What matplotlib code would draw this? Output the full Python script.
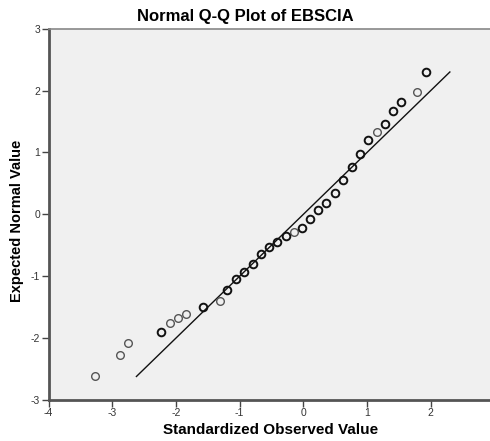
import matplotlib
matplotlib.use("Agg")
import matplotlib.pyplot as plt

plt.rcParams['font.family'] = ['Liberation Sans', 'DejaVu Sans']
plt.rcParams['axes.unicode_minus'] = False

# observed (standardized) vs expected normal values
observed = [-3.27, -2.88, -2.745, -2.23, -2.10, -1.97, -1.84, -1.58, -1.31, -1.20,
            -1.05, -0.926, -0.795, -0.67, -0.544, -0.412, -0.28, -0.15, -0.02, 0.11,
            0.23, 0.36, 0.49, 0.626, 0.756, 0.887, 1.02, 1.15, 1.275, 1.405,
            1.53, 1.79, 1.92]
expected = [-2.62, -2.27, -2.08, -1.90, -1.76, -1.68, -1.61, -1.49, -1.40, -1.23,
            -1.05, -0.93, -0.806, -0.644, -0.53, -0.445, -0.353, -0.283, -0.213, -0.073,
            0.068, 0.18, 0.35, 0.558, 0.763, 0.979, 1.20, 1.335, 1.465, 1.67,
            1.82, 1.98, 2.30]
# how many cases sit on each circle (overlaps look darker)
counts = [1, 1, 1, 2, 1, 1, 1, 2, 1, 2,
          2, 2, 2, 2, 2, 2, 2, 1, 2, 2,
          2, 2, 2, 2, 2, 2, 2, 1, 2, 2,
          2, 1, 2]

fig = plt.figure(figsize=(4.9, 4.41), dpi=100)
ax = fig.add_axes([0.099, 0.093, 0.901, 0.842])
ax.set_facecolor('#f0f0f0')

# reference line y = x over the expected range
lo, hi = min(expected), max(expected)
ax.plot([lo, hi], [lo, hi], color='#111111', lw=1.0, zorder=2)

single_x = [o for o, c in zip(observed, counts) if c == 1]
single_y = [e for e, c in zip(expected, counts) if c == 1]
multi_x = [o for o, c in zip(observed, counts) if c > 1]
multi_y = [e for e, c in zip(expected, counts) if c > 1]
ax.plot(single_x, single_y, 'o', ms=5.5, mfc='none', mec='#555555', mew=1.0, zorder=3)
ax.plot(multi_x, multi_y, 'o', ms=5.5, mfc='none', mec='#111111', mew=1.4, zorder=3)

ax.set_xlim(-4, 2.93)
ax.set_ylim(-3, 3)
ax.set_xticks([-4, -3, -2, -1, 0, 1, 2])
ax.set_yticks([-3, -2, -1, 0, 1, 2, 3])

ax.spines['right'].set_visible(False)
ax.spines['top'].set_color('#888888')
ax.spines['top'].set_linewidth(1.2)
for s in ['left', 'bottom']:
    ax.spines[s].set_color('#555555')
    ax.spines[s].set_linewidth(2.0)

ax.tick_params(axis='both', direction='out', length=5, width=1, color='#444444',
               labelsize=7.5, labelcolor='#333333', pad=1)

fig.text(0.5, 0.962, 'Normal Q-Q Plot of EBSCIA', ha='center', va='center',
         fontsize=12, fontweight='bold')
fig.text(0.553, 0.025, 'Standardized Observed Value', ha='center', va='center',
         fontsize=11, fontweight='bold')
fig.text(0.035, 0.5, 'Expected Normal Value', rotation=90, ha='center', va='center',
         fontsize=10.5, fontweight='bold')

fig.savefig('out.png', dpi=100, facecolor='white')
